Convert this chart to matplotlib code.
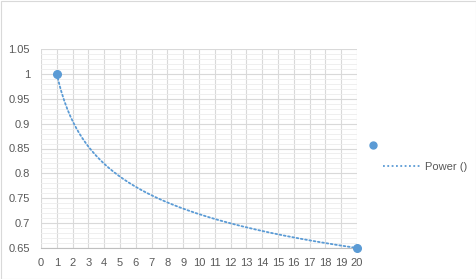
import matplotlib.pyplot as plt
import numpy as np
from matplotlib.lines import Line2D
from matplotlib.patches import Rectangle
from matplotlib.ticker import MultipleLocator, FuncFormatter

X_VALUES = [1, 20]
Y_VALUES = [1.0, 0.65]
TREND_LABEL = "Power ()"

BLUE = "#5B9BD5"
GREY_TEXT = "#595959"

plt.rcParams["font.family"] = ["Liberation Sans", "DejaVu Sans"]

fig = plt.figure(figsize=(4.77, 2.79), dpi=100)
ax = fig.add_axes([41 / 477, 1 - 248 / 279, 316 / 477, 199 / 279])

# power trendline fitted like Excel does (log-log least squares)
b, log_a = np.polyfit(np.log(X_VALUES), np.log(Y_VALUES), 1)
xs = np.linspace(min(X_VALUES), max(X_VALUES), 200)
ax.plot(xs, np.exp(log_a) * xs ** b, color=BLUE, lw=1.3, ls=(0, (1, 1.4)),
        dash_capstyle="round", zorder=3)
ax.plot(X_VALUES, Y_VALUES, "o", color=BLUE, ms=5.5, zorder=4, clip_on=False)

ax.set_xlim(0, 20)
ax.set_ylim(0.65, 1.05)
ax.xaxis.set_major_locator(MultipleLocator(1))
ax.yaxis.set_major_locator(MultipleLocator(0.05))
ax.yaxis.set_minor_locator(MultipleLocator(0.01))
ax.yaxis.set_major_formatter(FuncFormatter(lambda v, p: f"{v:.2f}".rstrip("0").rstrip(".")))

ax.grid(which="major", color="#D9D9D9", lw=0.8)
ax.grid(which="minor", axis="y", color="#EDEDED", lw=0.6)
ax.set_axisbelow(True)
for side in ["top", "right", "left"]:
    ax.spines[side].set_visible(False)
ax.spines["bottom"].set_color("#BFBFBF")
ax.tick_params(which="both", length=0, colors=GREY_TEXT, labelsize=8)
ax.tick_params(axis="x", pad=7)
ax.tick_params(axis="y", pad=8)

# legend: series marker entry (no name) and the trendline entry
leg1 = fig.legend([Line2D([], [], color=BLUE, marker="o", ls="none", ms=5)], [""],
                  loc="center", bbox_to_anchor=(373 / 477, 1 - 146 / 279),
                  frameon=False, handlelength=1, handletextpad=0, borderpad=0)
leg2 = fig.legend([Line2D([], [], color=BLUE, lw=1.3, ls=(0, (1, 1.4)))], [TREND_LABEL],
                  loc="center left", bbox_to_anchor=(373 / 477, 1 - 167 / 279),
                  frameon=False, fontsize=8, handlelength=3.3, handletextpad=0.5)
for t in leg2.get_texts():
    t.set_color(GREY_TEXT)

fig.patches.append(Rectangle((0.5 / 477, 0.5 / 279), 1 - 1 / 477, 1 - 1 / 279,
                             transform=fig.transFigure, fill=False,
                             edgecolor="#D9D9D9", lw=0.8))

fig.savefig("out.png", dpi=100)
